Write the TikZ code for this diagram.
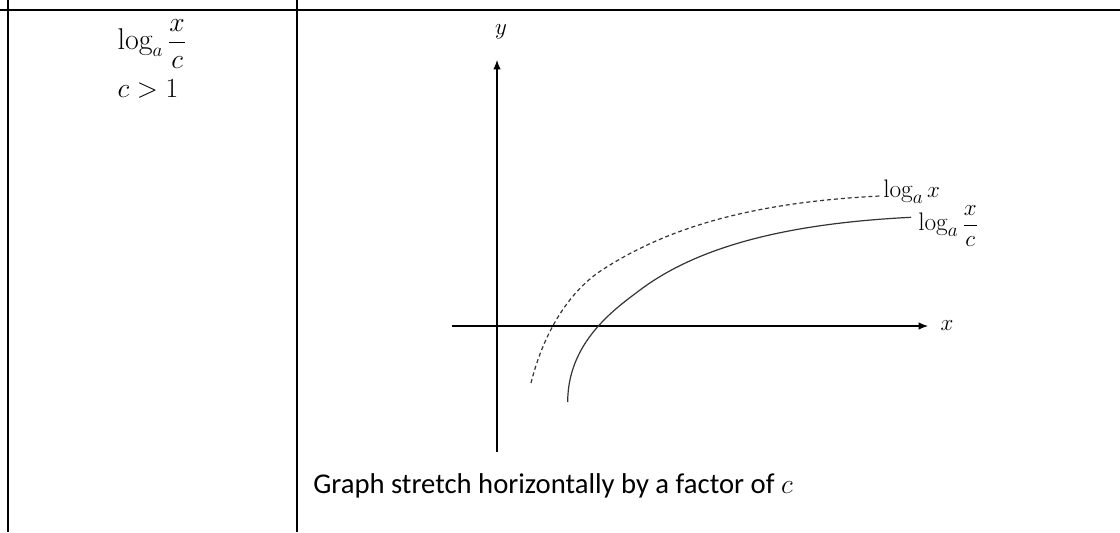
\documentclass[tikz,border=0pt]{standalone}
\usepackage{amsmath}
\usepackage{fontspec}
\newfontfamily\calibri{Carlito}
\usetikzlibrary{arrows.meta}
\begin{document}
\begin{tikzpicture}[x=0.75pt,y=-0.75pt,
  tableline/.style={line width=1.5pt,black},
  thinrule/.style={line width=0.9pt,black},
  axis/.style={line width=0.8pt,black,-{Latex[length=7pt,width=5.5pt]}},
  curve/.style={line width=0.9pt,black!80},
  dashcurve/.style={curve,dash pattern=on 3pt off 2.2pt},
  lbl/.style={inner sep=0pt,font=\fontsize{19}{23}\selectfont},
  cell/.style={inner sep=0pt,font=\fontsize{22.5}{27}\selectfont},
  caption/.style={inner sep=0pt,font=\calibri\fontsize{21.5}{26}\selectfont}]
\useasboundingbox (0,0) rectangle (1120,532);
% table rules
\coordinate (tl) at (0,10);
\coordinate (tm) at (297,10);
\coordinate (tr1) at (997,10);
\coordinate (tr2) at (1120,10);
\coordinate (l0) at (7.5,0);
\coordinate (l1) at (7.5,532);
\coordinate (m0) at (297,0);
\coordinate (m1) at (297,532);
\draw[tableline] (tl) -- (tm);
\draw[thinrule] (tm) -- (tr1);
\draw[line width=1.7pt] (tr1) -- (tr2);
\draw[tableline] (l0) -- (l1);
\draw[tableline] (m0) -- (m1);
% left cell
\node[cell] (f1) at (152,44) {$\log_a \dfrac{x}{c}$};
\node[cell] (f2) at (148,88.5) {$c>1$};
% axes
\coordinate (xs) at (452,326);
\coordinate (xe) at (928,326);
\coordinate (ys) at (497,452);
\coordinate (ye) at (497,60);
\draw[axis] (xs) -- (xe);
\draw[axis] (ys) -- (ye);
\node[lbl] (ylab) at (501,32) {$y$};
\node[lbl] (xlab) at (947,326) {$x$};
% curves
\coordinate (d0) at (531,383);
\coordinate (dq) at (602,270);
\coordinate (d1) at (880,196);
\draw[dashcurve] (d0) .. controls (544.75,328) and (572,289.5) .. (dq)
                      .. controls (672,224.5) and (760,202) .. (d1);
\coordinate (s0) at (567.7,402);
\coordinate (sq) at (640,290);
\coordinate (s1) at (911,217.3);
\draw[curve] (s0) .. controls (567.7,342) and (615,308.75) .. (sq)
                  .. controls (700,245) and (791,223.3) .. (s1);
\node[lbl,anchor=base west] (l1lab) at (883,197) {$\log_a x$};
\node[lbl,anchor=west] (l2lab) at (918,226) {$\log_a \dfrac{x}{c}$};
% caption
\node[caption,anchor=base west] (cap) at (313,493) {Graph stretch horizontally by a factor of {\rmfamily$c$}};
\end{tikzpicture}
\end{document}
